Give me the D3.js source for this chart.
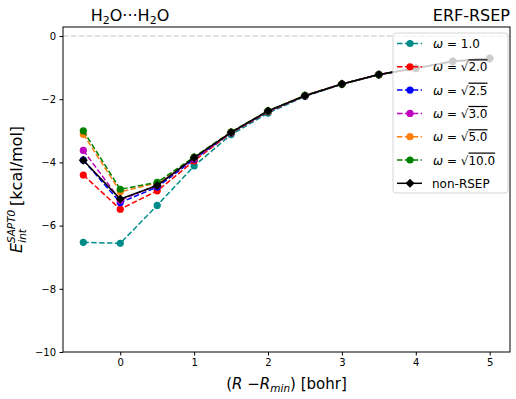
<!DOCTYPE html>
<html lang="en">
<head>
<meta charset="UTF-8">
<title>H2O dimer ERF-RSEP</title>
<script src="https://d3js.org/d3.v7.min.js"></script>
<style>
    body { margin: 0; background: #fff; }
    text { font-family: "DejaVu Sans", sans-serif; fill: #000; }
    .tick text { font-size: 10px; }
    .tick line, .domain { stroke: #000; }
    .root { text-decoration: overline; }
</style>
</head>
<body>
<div id="chart"></div>
<script>
    const width = 516;
    const height = 399;
    const margin = {top: 27, right: 6, bottom: 47, left: 63};

    // x positions (bohr)
    const dist = [-0.5, 0, 0.5, 1, 1.5, 2, 2.5, 3, 3.5, 4, 4.5, 5];
    const xTicks = [0, 1, 2, 3, 4, 5];
    const yTicks = [0, -2, -4, -6, -8, -10];

    // interaction energies
    const w10  = [-6.53, -6.56, -5.36, -4.11, -3.12, -2.44, -1.91, -1.53, -1.23, -1.02, -0.81, -0.71];
    const w20  = [-4.40, -5.48, -4.90, -3.95, -3.07, -2.40, -1.89, -1.52, -1.22, -1.02, -0.80, -0.71];
    const w25  = [-3.93, -5.27, -4.78, -3.90, -3.06, -2.39, -1.89, -1.52, -1.22, -1.02, -0.80, -0.71];
    const w30  = [-3.62, -5.20, -4.72, -3.88, -3.05, -2.38, -1.89, -1.52, -1.22, -1.02, -0.80, -0.71];
    const w50  = [-3.11, -4.93, -4.65, -3.84, -3.04, -2.37, -1.88, -1.52, -1.22, -1.02, -0.80, -0.71];
    const w100 = [-3.00, -4.85, -4.63, -3.83, -3.04, -2.37, -1.88, -1.52, -1.22, -1.02, -0.80, -0.71];
    const nonRsep = [-3.93, -5.16, -4.73, -3.85, -3.05, -2.37, -1.89, -1.52, -1.22, -1.02, -0.80, -0.71];

    const series = [
        {label: "1.0",  values: w10,  color: "#008b8b", sqrt: false},
        {label: "2.0",  values: w20,  color: "#ff0000", sqrt: true},
        {label: "2.5",  values: w25,  color: "#0000ff", sqrt: true},
        {label: "3.0",  values: w30,  color: "#bf00bf", sqrt: true},
        {label: "5.0",  values: w50,  color: "#ff7f0e", sqrt: true},
        {label: "10.0", values: w100, color: "#008000", sqrt: true},
        {label: "non-RSEP", values: nonRsep, color: "#000000", ref: true}
    ];

    const svg = d3.select("#chart").append("svg")
        .attr("width", width).attr("height", height);

    const x = d3.scaleLinear().domain([-0.775, 5.275])
        .range([margin.left, width - margin.right]);
    const y = d3.scaleLinear().domain([-10, 0.285])
        .range([height - margin.bottom, margin.top]);

    // zero reference line
    svg.append("line")
        .attr("x1", x.range()[0]).attr("x2", x.range()[1])
        .attr("y1", y(0)).attr("y2", y(0))
        .attr("stroke", "#d9d9d9").attr("stroke-width", 1.5)
        .attr("stroke-dasharray", "5.5,2.4");

    const line = d3.line().x((d, i) => x(dist[i])).y(d => y(d));
    const plot = svg.append("g");

    series.forEach(s => {
        plot.append("path")
            .datum(s.values)
            .attr("d", line)
            .attr("fill", "none")
            .attr("stroke", s.color)
            .attr("stroke-width", 1.5)
            .attr("stroke-dasharray", s.ref ? null : "5.5,2.4");
        if (s.ref) {
            plot.selectAll(null).data(s.values).enter().append("path")
                .attr("d", d3.symbol(d3.symbolSquare, 40))
                .attr("transform", (d, i) => `translate(${x(dist[i])},${y(d)}) rotate(45)`)
                .attr("fill", s.color);
        } else {
            plot.selectAll(null).data(s.values).enter().append("circle")
                .attr("cx", (d, i) => x(dist[i]))
                .attr("cy", d => y(d))
                .attr("r", 3.6)
                .attr("fill", s.color);
        }
    });

    // frame
    svg.append("rect")
        .attr("x", x.range()[0]).attr("y", margin.top)
        .attr("width", x.range()[1] - x.range()[0])
        .attr("height", height - margin.bottom - margin.top)
        .attr("fill", "none").attr("stroke", "#000").attr("stroke-width", 1);

    svg.append("g")
        .attr("transform", `translate(0,${height - margin.bottom})`)
        .call(d3.axisBottom(x).tickValues(xTicks).tickSize(3.5).tickPadding(3.5)
            .tickFormat(d3.format("d")));
    svg.append("g")
        .attr("transform", `translate(${margin.left},0)`)
        .call(d3.axisLeft(y).tickValues(yTicks).tickSize(3.5).tickPadding(3.5)
            .tickFormat(d => d < 0 ? "\u2212" + Math.abs(d) : d));
    svg.selectAll(".domain").remove();

    // titles
    const t1 = svg.append("text").attr("x", 130).attr("y", 21)
        .attr("text-anchor", "middle").attr("font-size", 16);
    t1.append("tspan").text("H");
    t1.append("tspan").attr("font-size", 11).attr("dy", 3).text("2");
    t1.append("tspan").attr("dy", -3).text("O\u00b7\u00b7\u00b7H");
    t1.append("tspan").attr("font-size", 11).attr("dy", 3).text("2");
    t1.append("tspan").attr("dy", -3).text("O");

    svg.append("text").attr("x", x.range()[1]).attr("y", 21)
        .attr("text-anchor", "end").attr("font-size", 16).text("ERF-RSEP");

    // axis labels
    const xl = svg.append("text")
        .attr("x", (x.range()[0] + x.range()[1]) / 2).attr("y", 389)
        .attr("text-anchor", "middle").attr("font-size", 15);
    xl.append("tspan").text("(");
    xl.append("tspan").attr("font-style", "italic").text("R");
    xl.append("tspan").text(" \u2212");
    xl.append("tspan").attr("font-style", "italic").text("R");
    xl.append("tspan").attr("font-style", "italic").attr("font-size", 10.5).attr("dy", 3).text("min");
    xl.append("tspan").attr("dy", -3).text(") [bohr]");

    const yl = svg.append("text")
        .attr("transform", `translate(22,${(margin.top + height - margin.bottom) / 2}) rotate(-90)`)
        .attr("text-anchor", "middle").attr("font-size", 16);
    yl.append("tspan").attr("font-style", "italic").text("E");
    yl.append("tspan").attr("font-style", "italic").attr("font-size", 10.5).attr("dy", -7).text("SAPT0");
    yl.append("tspan").attr("font-style", "italic").attr("font-size", 10.5).attr("dy", 11).attr("dx", -33).text("int");
    yl.append("tspan").attr("dy", -4).attr("dx", 18).text(" [kcal/mol]");

    // legend
    const lg = svg.append("g").attr("transform", "translate(393,33)");
    lg.append("rect")
        .attr("width", 115).attr("height", 160).attr("rx", 3)
        .attr("fill", "#fff").attr("fill-opacity", 0.8)
        .attr("stroke", "#d6d6d6");
    series.forEach((s, i) => {
        const row = lg.append("g").attr("transform", `translate(0,${10.5 + i * 23.3})`);
        row.append("line").attr("x1", 4).attr("x2", 29)
            .attr("stroke", s.color).attr("stroke-width", 1.5)
            .attr("stroke-dasharray", s.ref ? null : "5.5,2.4");
        if (s.ref) {
            row.append("path").attr("d", d3.symbol(d3.symbolSquare, 40))
                .attr("transform", "translate(17,0) rotate(45)").attr("fill", s.color);
            row.append("text").attr("x", 39).attr("y", 4.5).attr("font-size", 12).text(s.label);
        } else {
            row.append("circle").attr("cx", 17).attr("r", 3.6).attr("fill", s.color);
            const t = row.append("text").attr("x", 40).attr("y", 4.5).attr("font-size", 12);
            t.append("tspan").attr("font-style", "italic").text("\u03c9");
            t.append("tspan").text(" = ");
            if (s.sqrt) {
                t.append("tspan").text("\u221a");
                t.append("tspan").attr("class", "root").text(s.label);
            } else {
                t.append("tspan").text(s.label);
            }
        }
    });
</script>
</body>
</html>
